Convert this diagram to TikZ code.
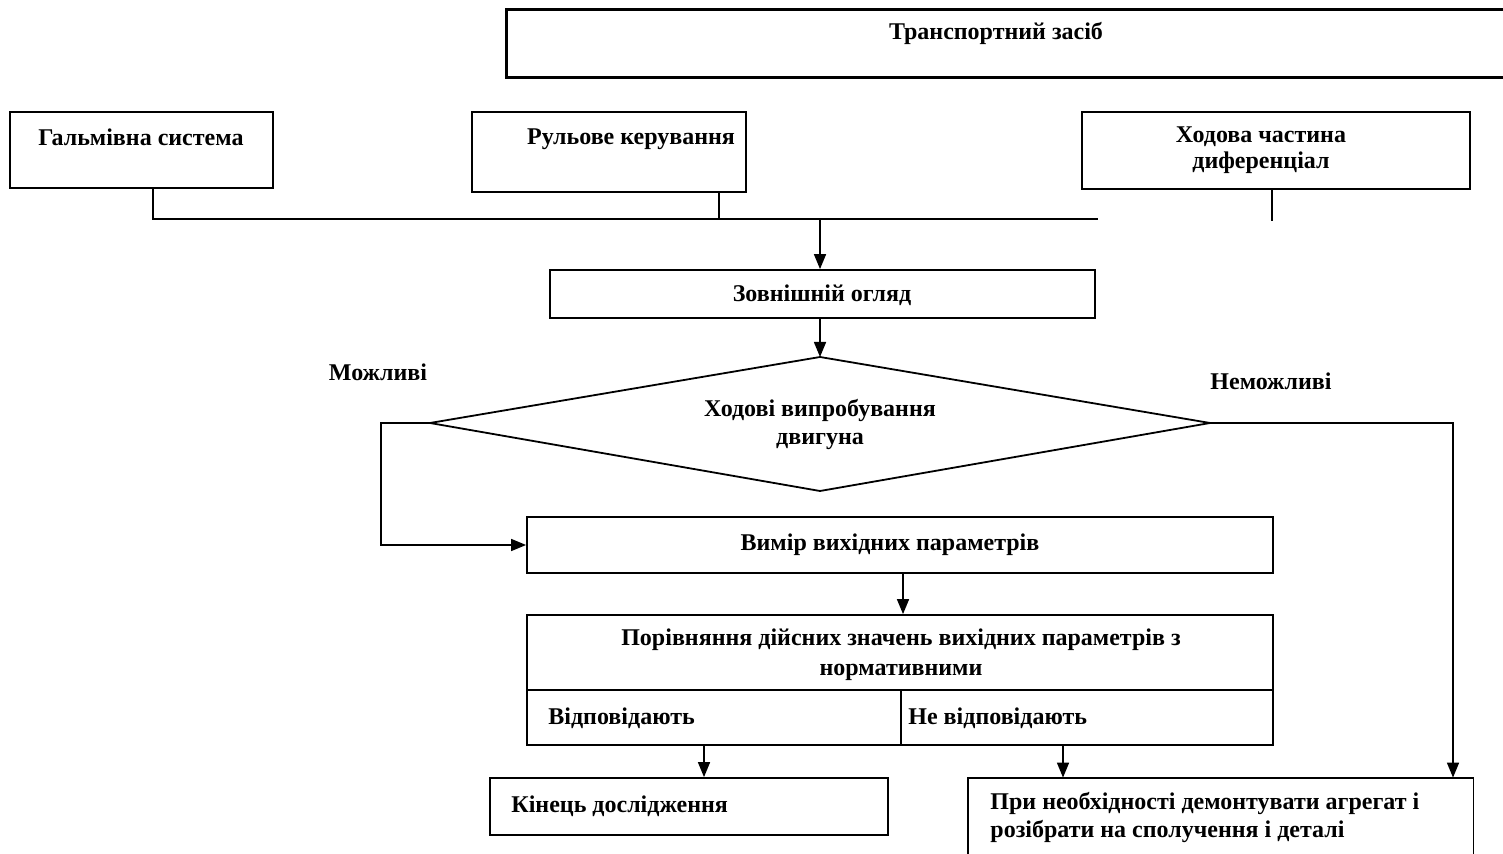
\documentclass[tikz,border=0pt]{standalone}
\usepackage{fontspec}
\setmainfont{Liberation Serif}
\usetikzlibrary{arrows.meta,fit}
\begin{document}
\begin{tikzpicture}[x=0.5pt,y=-0.5pt,
  box/.style={draw,line width=0.9pt,inner sep=0pt},
  frame/.style={inner sep=0pt},
  txt/.style={inner sep=0pt,font=\fontsize{12}{13}\selectfont\bfseries,align=center},
  ltxt/.style={inner sep=0pt,font=\fontsize{12}{14}\selectfont\bfseries,align=left,anchor=west},
  conn/.style={line width=0.8pt},
  arr/.style={line width=0.8pt,-{Triangle[length=7.5pt,width=6pt]}}]
\useasboundingbox (0,0) rectangle (1503,854);
% top box (open at right edge)
\node[frame,fit={(507,10)(1503,77)}] (ts) {};
\draw[line width=1.2pt] (ts.north east) -- (ts.north west) -- (ts.south west) -- (ts.south east);
\node[txt] at (996,33) {Транспортний засіб};
% three subsystem boxes
\node[box,fit={(10,112)(273,188)}] (gs) {};
\node[txt] at (141,137) {Гальмівна система};
\node[box,fit={(472,112)(746,192)}] (rk) {};
\node[txt] at (631,139) {Рульове керування};
\node[box,fit={(1082,112)(1470,189)}] (hc) {};
\node[txt] at (1261,150) {Ходова частина\\диференціал};
% collector line
\coordinate (c1) at (153,219);
\coordinate (c2) at (719,219);
\coordinate (c3) at (1098,219);
\coordinate (c4) at (820,219);
\coordinate (h1) at (1272,189);
\coordinate (h2) at (1272,221);
\draw[conn] (gs.south -| c1) -- (c1) -- (c3);
\draw[conn] (rk.south -| c2) -- (c2);
\draw[conn] (h1) -- (h2);
% external inspection
\node[box,fit={(550,270)(1095,318)}] (zo) {};
\node[txt] at (822,295) {Зовнішній огляд};
\draw[arr] (c4) -- (zo.north -| c4);
% diamond
\coordinate (dl) at (430,423);
\coordinate (dt) at (820,357);
\coordinate (dr) at (1210,423);
\coordinate (db) at (820,491);
\draw[line width=0.9pt] (dl) -- (dt) -- (dr) -- (db) -- cycle;
\node[txt,font=\fontsize{12}{14}\selectfont\bfseries] at (820,425) {Ходові випробування\\двигуна};
\draw[arr] (zo.south -| dt) -- (dt);
\node[txt] at (378,372) {Можливі};
\node[txt] at (1271,381) {Неможливі};
% measurement
\node[box,fit={(527,517)(1273,573)}] (vm) {};
\node[txt] at (890,545) {Вимір вихідних параметрів};
\coordinate (lc) at (381,423);
\draw[arr] (dl) -- (lc) |- (vm.west);
% comparison
\node[box,fit={(527,615)(1273,690)}] (pr) {};
\node[txt,font=\fontsize{12}{15}\selectfont\bfseries] at (901,655) {Порівняння дійсних значень вихідних параметрів з\\нормативними};
\node[box,fit={(527,690)(901,745)}] (yes) {};
\node[box,fit={(901,690)(1273,745)}] (no) {};
\node[ltxt] at (548,718) {Відповідають};
\node[ltxt] at (908,718) {Не відповідають};
\coordinate (a1) at (903,573);
\draw[arr] (a1) -- (pr.north -| a1);
% results
\node[box,fit={(490,778)(888,835)}] (end) {};
\node[ltxt] at (511,806) {Кінець дослідження};
\node[frame,fit={(968,778)(1473,856)}] (dm) {};
\draw[line width=0.9pt] (dm.south west) -- (dm.north west) -- (dm.north east) -- (dm.south east);
\node[ltxt] at (990,817) {При необхідності демонтувати агрегат і\\розібрати на сполучення і деталі};
\coordinate (b1) at (704,745);
\coordinate (b2) at (1063,745);
\coordinate (rc) at (1453,423);
\draw[arr] (b1) -- (end.north -| b1);
\draw[arr] (b2) -- (dm.north -| b2);
\draw[arr] (dr) -- (rc) -- (dm.north -| rc);
\end{tikzpicture}
\end{document}
